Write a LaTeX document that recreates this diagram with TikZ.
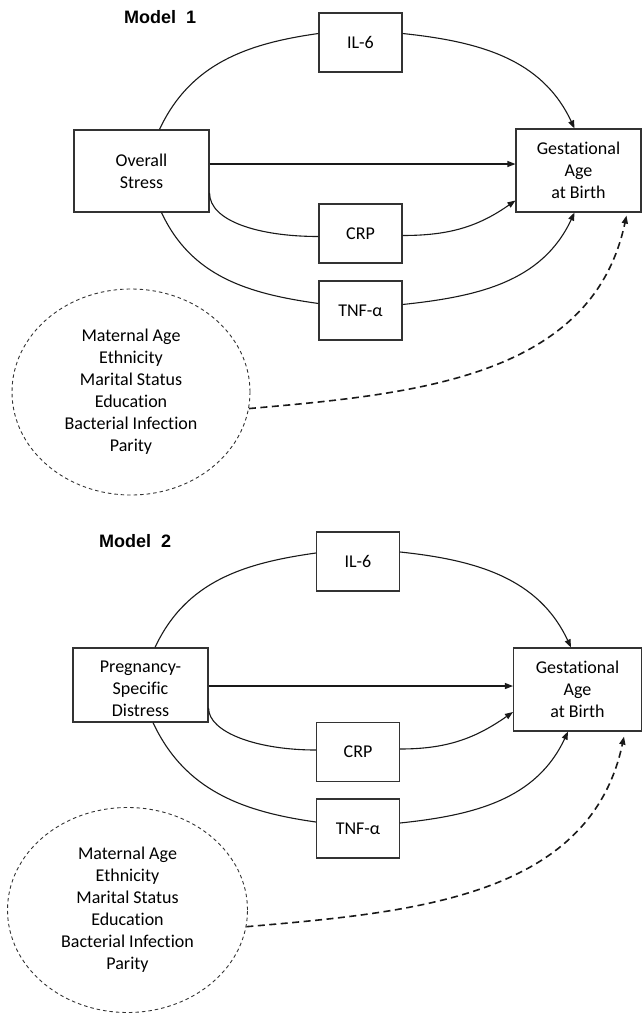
\documentclass[tikz,border=0pt]{standalone}
\usepackage{fontspec}
\setmainfont{Carlito}[Ligatures=NoCommon]
\newfontfamily\headfont{Liberation Sans}
\usetikzlibrary{arrows.meta,shapes.geometric}
\begin{document}
\begin{tikzpicture}[x=1pt,y=1pt,
  box/.style={draw=black!80, line width=1.1pt, inner sep=0pt, align=center, font=\fontsize{18}{22}\selectfont},
  smallbox/.style={box, minimum width=83pt, minimum height=59pt},
  conn/.style={line width=1.1pt, draw=black!90},
  arr/.style={conn, -{Triangle[length=8pt,width=6pt]}},
  covar/.style={ellipse, draw=black!80, dash pattern=on 3.5pt off 3pt, line width=0.9pt, inner sep=0pt, align=center, font=\fontsize{18}{22}\selectfont},
  dasharr/.style={line width=1.6pt, draw=black!90, dash pattern=on 7pt off 4.5pt, -{Triangle[length=8pt,width=6pt]}},
  title/.style={font=\headfont\bfseries\fontsize{18}{22}\selectfont, anchor=west, inner sep=0pt}
]
\useasboundingbox (0,0) rectangle (642,-1015);

% ---------- Model 1 ----------
\node[title] (m1) at (124,-17) {Model~~1};
\node[smallbox] (il6a) at (360.5,-42.5) {IL-6};
\node[smallbox] (crpa) at (360.5,-233.5) {CRP};
\node[smallbox] (tnfa) at (360.5,-310.5) {TNF-α};
\node[box, minimum width=135pt, minimum height=82pt] (ova) at (141.5,-171) {Overall\\Stress};
\node[box, minimum width=125pt, minimum height=83pt] (gaa) at (578.5,-170.5) {Gestational\\Age\\at Birth};
\node[covar, minimum width=238pt, minimum height=206pt] (cova) at (131,-392) {Maternal Age\\Ethnicity\\Marital Status\\Education\\Bacterial Infection\\Parity};

\draw[conn] ([xshift=18pt]ova.north) to[out=65,in=188] ([yshift=9pt]il6a.west);
\draw[arr] ([yshift=9pt]il6a.east) to[out=-6,in=115] ([xshift=-4pt]gaa.north);
\draw[arr] ([yshift=7pt]ova.east) -- ([yshift=7pt]ova.east -| gaa.west);
\draw[conn] ([yshift=-22pt]ova.east) .. controls +(0,-28) and +(-60,0) .. ([yshift=-3pt]crpa.west);
\draw[arr] ([yshift=-2pt]crpa.east) to[out=0,in=-145] ([yshift=-30pt]gaa.west);
\draw[conn] ([xshift=20pt]ova.south) to[out=-65,in=172] ([yshift=7pt]tnfa.west);
\draw[arr] ([yshift=6pt]tnfa.east) to[out=6,in=-115] ([xshift=-4pt]gaa.south);
\draw[dasharr] (cova.-8) to[out=5,in=-102] ([xshift=48pt,yshift=-3pt]gaa.south);

% ---------- Model 2 ----------
\node[title] (m2) at (99,-541) {Model~~2};
\node[smallbox] (il6b) at (358,-561.5) {IL-6};
\node[smallbox] (crpb) at (358,-752) {CRP};
\node[smallbox] (tnfb) at (358,-828.5) {TNF-α};
\node[box, minimum width=135pt, minimum height=74pt] (ovb) at (140.5,-685) {\rule{0pt}{19pt}Pregnancy-\\Specific\\Distress};
\node[box, minimum width=128pt, minimum height=83pt] (gab) at (577.5,-689.5) {Gestational\\Age\\at Birth};
\node[covar, minimum width=240pt, minimum height=205pt] (covb) at (127.5,-910) {Maternal Age\\Ethnicity\\Marital Status\\Education\\Bacterial Infection\\Parity};

\draw[conn] ([xshift=14.5pt]ovb.north) to[out=65,in=188] ([yshift=8.5pt]il6b.west);
\draw[arr] ([yshift=9.5pt]il6b.east) to[out=-6,in=115] ([xshift=-6.5pt]gab.north);
\draw[arr] ([yshift=-1pt]ovb.east) -- ([yshift=-1pt]ovb.east -| gab.west);
\draw[conn] ([yshift=-23pt]ovb.east) .. controls +(0,-24) and +(-60,0) .. ([yshift=2pt]crpb.west);
\draw[arr] ([yshift=3pt]crpb.east) to[out=0,in=-145] ([yshift=-22.5pt]gab.west);
\draw[conn] ([xshift=12.5pt]ovb.south) to[out=-65,in=172] ([yshift=6.5pt]tnfb.west);
\draw[arr] ([yshift=5.5pt]tnfb.east) to[out=6,in=-115] ([xshift=-9.5pt]gab.south);
\draw[dasharr] (covb.-8) to[out=5,in=-102] ([xshift=46.5pt,yshift=-5pt]gab.south);
\end{tikzpicture}
\end{document}
